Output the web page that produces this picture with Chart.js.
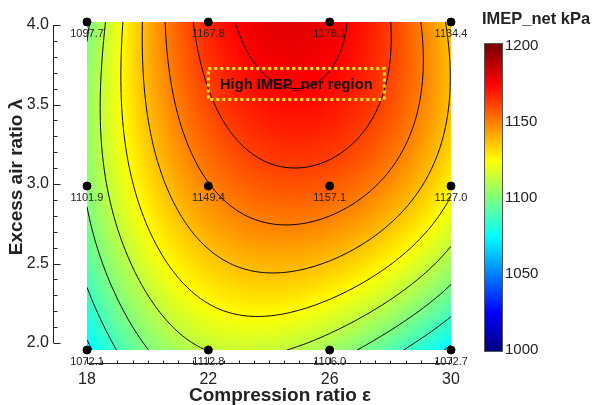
<!DOCTYPE html>
<html>
<head>
<meta charset="utf-8">
<script src="https://cdn.jsdelivr.net/npm/chart.js@4.4.1/dist/chart.umd.min.js"></script>
<style>
  html, body { margin: 0; padding: 0; background: #fff; }
  #wrap { width: 593px; height: 405px; }
</style>
</head>
<body>
<div id="wrap"><canvas id="c" width="593" height="405"></canvas></div>
<script>
// measured operating points
const compression = [18, 22, 26, 30];
const lambdas = [2.0, 3.0, 4.0];
// IMEP_net (kPa), one row per excess air ratio
const imepLambda2 = [1072.1, 1112.8, 1106.0, 1072.7];
const imepLambda3 = [1101.9, 1149.4, 1157.1, 1127.0];
const imepLambda4 = [1097.7, 1167.8, 1178.1, 1134.4];

const xTicks = [18, 22, 26, 30];
const yTicks = [2.0, 2.5, 3.0, 3.5, 4.0];
const cbarTicks = [1000, 1050, 1100, 1150, 1200];
const contourLevels = [1062.5, 1075, 1087.5, 1100, 1112.5, 1125, 1137.5, 1150, 1162.5, 1175, 1187.5];

const FONT = '"Liberation Sans", Arial, sans-serif';
const rows = [imepLambda2, imepLambda3, imepLambda4];

const points = [];
lambdas.forEach((lam, j) => {
  compression.forEach((cr, i) => points.push({ x: cr, y: lam, v: rows[j][i] }));
});

// smooth surface through the grid: cubic in compression ratio, quadratic in lambda
function lagrange(nodes, t) {
  return nodes.map((n, i) => nodes.reduce((p, m, k) => (k === i ? p : p * (t - m) / (n - m)), 1));
}
function surface(x, y) {
  const lx = lagrange(compression, x), ly = lagrange(lambdas, y);
  let s = 0;
  for (let j = 0; j < lambdas.length; j++)
    for (let i = 0; i < compression.length; i++) s += rows[j][i] * lx[i] * ly[j];
  return s;
}

function jet(t) {
  t = Math.max(0, Math.min(1, t));
  const cl = v => Math.max(0, Math.min(1, v));
  return [cl(1.5 - Math.abs(4 * t - 3)) * 255, cl(1.5 - Math.abs(4 * t - 2)) * 255, cl(1.5 - Math.abs(4 * t - 1)) * 255];
}
const VMIN = 1000, VMAX = 1200;

const surfacePlugin = {
  id: 'surface',
  beforeDatasetsDraw(chart) {
    const { ctx, chartArea: a, scales: { x, y } } = chart;
    const w = Math.round(a.right - a.left), h = Math.round(a.bottom - a.top);
    const img = ctx.createImageData(w, h);
    for (let j = 0; j < h; j++) {
      const yv = y.getValueForPixel(a.top + j + 0.5);
      for (let i = 0; i < w; i++) {
        const xv = x.getValueForPixel(a.left + i + 0.5);
        const c = jet((surface(xv, yv) - VMIN) / (VMAX - VMIN));
        const k = (j * w + i) * 4;
        img.data[k] = c[0]; img.data[k + 1] = c[1]; img.data[k + 2] = c[2]; img.data[k + 3] = 255;
      }
    }
    ctx.putImageData(img, Math.round(a.left), Math.round(a.top));

    // contour lines by marching squares on the value grid
    const nx = 160, ny = 140;
    const gx = i => x.min + (x.max - x.min) * i / nx;
    const gy = j => y.min + (y.max - y.min) * j / ny;
    const G = [];
    for (let j = 0; j <= ny; j++) {
      G.push([]);
      for (let i = 0; i <= nx; i++) G[j].push(surface(gx(i), gy(j)));
    }
    ctx.save();
    ctx.beginPath();
    ctx.rect(a.left, a.top, a.right - a.left, a.bottom - a.top);
    ctx.clip();
    ctx.strokeStyle = '#000';
    ctx.lineWidth = 1;
    contourLevels.forEach(L => {
      ctx.beginPath();
      for (let j = 0; j < ny; j++) {
        for (let i = 0; i < nx; i++) {
          const v0 = G[j][i], v1 = G[j][i + 1], v2 = G[j + 1][i + 1], v3 = G[j + 1][i];
          const pts = [];
          const edge = (va, vb, xa, ya, xb, yb) => {
            if ((va < L) !== (vb < L)) {
              const t = (L - va) / (vb - va);
              pts.push([xa + (xb - xa) * t, ya + (yb - ya) * t]);
            }
          };
          edge(v0, v1, gx(i), gy(j), gx(i + 1), gy(j));
          edge(v1, v2, gx(i + 1), gy(j), gx(i + 1), gy(j + 1));
          edge(v2, v3, gx(i + 1), gy(j + 1), gx(i), gy(j + 1));
          edge(v3, v0, gx(i), gy(j + 1), gx(i), gy(j));
          for (let s = 0; s + 1 < pts.length; s += 2) {
            ctx.moveTo(x.getPixelForValue(pts[s][0]), y.getPixelForValue(pts[s][1]));
            ctx.lineTo(x.getPixelForValue(pts[s + 1][0]), y.getPixelForValue(pts[s + 1][1]));
          }
        }
      }
      ctx.stroke();
    });
    ctx.restore();
  },
  afterDatasetsDraw(chart) {
    const { ctx, scales: { x, y } } = chart;
    ctx.save();
    ctx.font = '11px ' + FONT;
    ctx.fillStyle = '#222';
    ctx.textAlign = 'center';
    ctx.textBaseline = 'middle';
    points.forEach(p => {
      ctx.fillText(p.v.toFixed(1), x.getPixelForValue(p.x), y.getPixelForValue(p.y) + 12);
    });

    // annotation box
    const cx = x.getPixelForValue(24.9), cy = y.getPixelForValue(3.625);
    ctx.strokeStyle = '#ffe81a';
    ctx.lineWidth = 3;
    ctx.setLineDash([3, 3]);
    ctx.strokeRect(cx - 88, cy - 15, 176, 31);
    ctx.setLineDash([]);
    ctx.font = 'bold 14.7px ' + FONT;
    ctx.fillStyle = '#111';
    ctx.fillText('High IMEP_ner region', cx, cy + 1);
    ctx.restore();
  },
  afterDraw(chart) {
    const { ctx, chartArea: a, scales: { x, yAxis } } = chart;
    ctx.save();
    ctx.strokeStyle = '#222';
    ctx.fillStyle = '#222';
    ctx.lineWidth = 1;

    // x axis, offset below the map
    const ax = 363.5;
    ctx.beginPath();
    ctx.moveTo(a.left, ax); ctx.lineTo(a.right, ax);
    for (let v = x.min; v <= x.max + 1e-6; v += 0.5) {
      const px = Math.round(x.getPixelForValue(v)) + 0.5;
      const major = xTicks.includes(v);
      ctx.moveTo(px, ax); ctx.lineTo(px, ax - (major ? 6 : 3));
    }
    ctx.stroke();
    ctx.font = '16px ' + FONT;
    ctx.textAlign = 'center';
    ctx.textBaseline = 'middle';
    xTicks.forEach(v => ctx.fillText(String(v), x.getPixelForValue(v), 380));

    // y axis, offset left of the map
    const ay = 53.5;
    ctx.beginPath();
    ctx.moveTo(ay, yAxis.getPixelForValue(4.0)); ctx.lineTo(ay, yAxis.getPixelForValue(2.0));
    for (let k = 0; k <= 20; k++) {
      const v = 2 + k * 0.1;
      const py = Math.round(yAxis.getPixelForValue(v)) + 0.5;
      ctx.moveTo(ay, py); ctx.lineTo(ay + (k % 5 === 0 ? 7 : 4), py);
    }
    ctx.stroke();
    ctx.textAlign = 'right';
    yTicks.forEach(v => ctx.fillText(v.toFixed(1), 49, yAxis.getPixelForValue(v)));

    // axis titles
    ctx.font = 'bold 19px ' + FONT;
    ctx.textAlign = 'center';
    ctx.fillText('Compression ratio ε', 280, 396);
    ctx.save();
    ctx.translate(17, 177);
    ctx.rotate(-Math.PI / 2);
    ctx.fillText('Excess air ratio λ', 0, 0);
    ctx.restore();

    // colour bar
    const cbL = 484, cbR = 502, cbTop = 46, cbBot = 350;
    const cbPix = v => cbBot - (v - VMIN) / (VMAX - VMIN) * (cbBot - cbTop);
    for (let py = cbTop - 3; py < cbBot + 2; py++) {
      const v = VMIN + (cbBot - py) / (cbBot - cbTop) * (VMAX - VMIN);
      const c = jet((v - VMIN) / (VMAX - VMIN));
      ctx.fillStyle = `rgb(${c[0] | 0},${c[1] | 0},${c[2] | 0})`;
      ctx.fillRect(cbL, py, cbR - cbL, 1);
    }
    ctx.strokeStyle = '#555';
    ctx.strokeRect(cbL + 0.5, cbTop - 2.5, cbR - cbL, cbBot - cbTop + 4);
    ctx.fillStyle = '#222';
    ctx.font = '15px ' + FONT;
    ctx.textAlign = 'left';
    cbarTicks.forEach(v => ctx.fillText(String(v), 505, cbPix(v)));
    ctx.font = 'bold 16.5px ' + FONT;
    ctx.fillText('IMEP_net kPa', 482, 19);
    ctx.restore();
  }
};

new Chart(document.getElementById('c'), {
  type: 'scatter',
  data: {
    datasets: [{
      data: points.map(p => ({ x: p.x, y: p.y })),
      backgroundColor: '#000',
      borderColor: '#000',
      pointRadius: 4,
      clip: false
    }]
  },
  options: {
    responsive: false,
    animation: false,
    devicePixelRatio: 1,
    layout: { padding: { left: 87, right: 142, top: 22, bottom: 55 } },
    scales: {
      x: { type: 'linear', min: 18, max: 30, display: false },
      y: { type: 'linear', min: 2, max: 4, display: false },
      yAxis: { type: 'linear', axis: 'y', min: 1.956, max: 4.019, display: false }
    },
    plugins: { legend: { display: false }, tooltip: { enabled: false } }
  },
  plugins: [surfacePlugin]
});
</script>
</body>
</html>
